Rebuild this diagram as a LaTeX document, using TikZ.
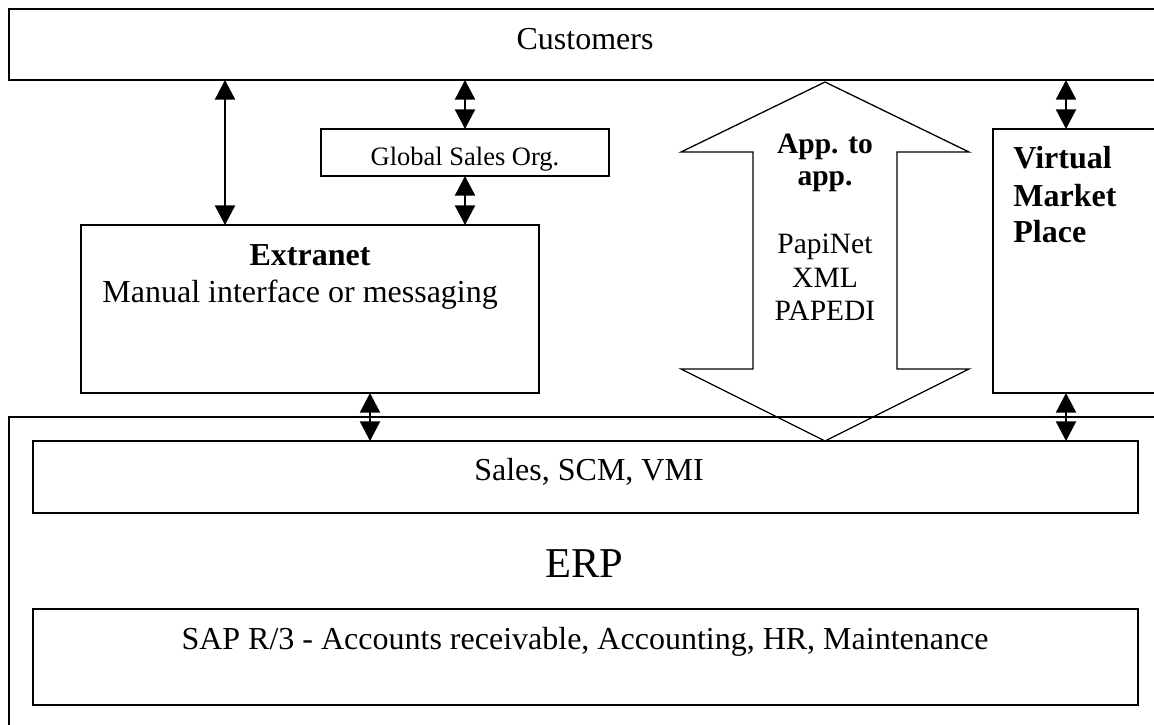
\documentclass[tikz,border=0pt]{standalone}
\usepackage{fontspec}
\setmainfont{Liberation Serif}
\usetikzlibrary{arrows.meta,fit}
\begin{document}
\begin{tikzpicture}[x=0.5pt,y=-0.5pt,
  box/.style={draw,line width=1pt,inner sep=0pt,outer sep=0pt},
  link/.style={line width=1pt,{Triangle[length=9.8pt,width=10pt]}-{Triangle[length=9.8pt,width=10pt]}},
  body/.style={font=\fontsize{16}{19}\selectfont,inner sep=0pt},
  small/.style={font=\fontsize{13.25}{16}\selectfont,inner sep=0pt},
  flow/.style={font=\fontsize{14.75}{17}\selectfont,inner sep=0pt},
  big/.style={font=\fontsize{21.25}{25}\selectfont,inner sep=0pt}]
\useasboundingbox (0,0) rectangle (1154,724);
\clip (0,0) rectangle (1154,724);

% boxes
\node[box,fit={(9,9)(1170,80)}] (cust) {};
\node[box,fit={(321,129)(609,176)}] (gso) {};
\node[box,fit={(81,225)(539,393)}] (ext) {};
\node[box,fit={(993,129)(1170,393)}] (vmp) {};
\node[box,fit={(9,417)(1170,740)}] (erp) {};
\node[box,fit={(33,441)(1138,513)}] (sales) {};
\node[box,fit={(33,609)(1138,705)}] (sap) {};

% texts
\node[body,anchor=base] (custtxt) at (585,49) {Customers};
\node[small,anchor=base] (gsotxt) at (465,165) {Global Sales Org.};
\node[body,anchor=base] (exttitle) at (310,265) {\bfseries Extranet};
\node[body,anchor=base west] (exttxt) at (102,302) {Manual interface or messaging};
\node[body,anchor=base west] (vmp1) at (1013,168) {\bfseries Virtual};
\node[body,anchor=base west] (vmp2) at (1013,206) {\bfseries Market};
\node[body,anchor=base west] (vmp3) at (1013,242) {\bfseries Place};
\node[flow,anchor=base] (a2a1) at (825,153) {\bfseries App. to};
\node[flow,anchor=base] (a2a2) at (825,185) {\bfseries app.};
\node[flow,anchor=base] (fmt1) at (825,253) {PapiNet};
\node[flow,anchor=base] (fmt2) at (825,287) {XML};
\node[flow,anchor=base] (fmt3) at (825,320) {PAPEDI};
\node[body,anchor=base] (salestxt) at (589,480) {Sales, SCM, VMI};
\node[big,anchor=base] (erptxt) at (584,577) {ERP};
\node[body,anchor=base] (saptxt) at (585,649) {SAP R/3 - Accounts receivable, Accounting, HR, Maintenance};

% connector columns
\coordinate (cA) at (225,0);
\coordinate (cB) at (465,0);
\coordinate (cC) at (370,0);
\coordinate (cD) at (1066,0);
\coordinate (cE) at (825,0);

\draw[link] (cust.south -| cA) -- (ext.north -| cA);
\draw[link] (cust.south -| cB) -- (gso.north -| cB);
\draw[link] (gso.south -| cB) -- (ext.north -| cB);
\draw[link] (ext.south -| cC) -- (sales.north -| cC);
\draw[link] (cust.south -| cD) -- (vmp.north -| cD);
\draw[link] (vmp.south -| cD) -- (sales.north -| cD);

% application-to-application double arrow
\coordinate (tipT) at (cust.south -| cE);
\coordinate (tipB) at (sales.north -| cE);
\draw[line width=0.65pt,line join=miter]
  ([yshift=-1pt]tipT) -- (969,152) -- (897,152) -- (897,369) -- (969,369)
  -- (tipB) -- (681,369) -- (753,369) -- (753,152) -- (681,152) -- cycle;
\end{tikzpicture}
\end{document}
